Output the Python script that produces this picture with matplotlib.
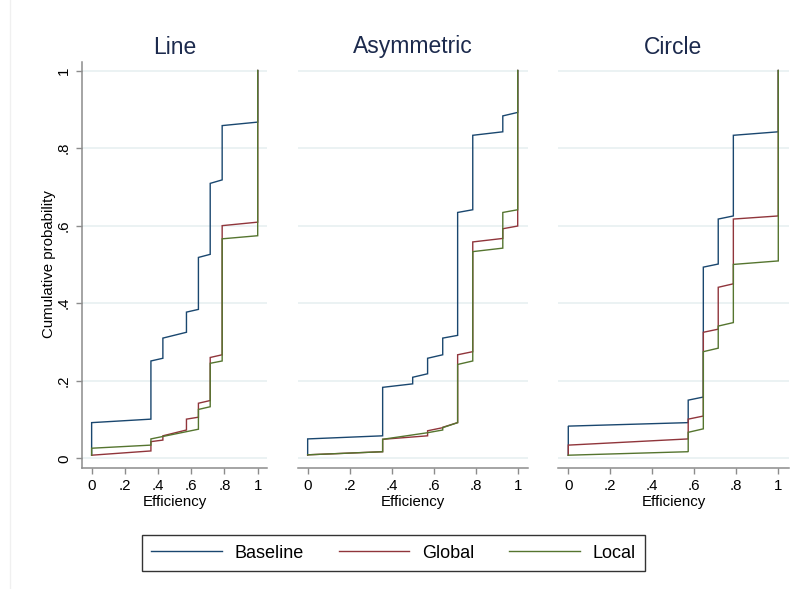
import matplotlib
matplotlib.use("Agg")
import matplotlib.pyplot as plt
from matplotlib.lines import Line2D

plt.rcParams['font.family'] = ['Liberation Sans', 'DejaVu Sans']

# -------------------------
# DATA: empirical CDFs of efficiency
# for each jump point: cdf at first and last tied observation
# -------------------------
panels = ["Line", "Asymmetric", "Circle"]
series = ["Baseline", "Global", "Local"]
colors = {"Baseline": "#1a476f", "Global": "#90353b", "Local": "#55752f"}

line_base_x = [0, .357, .429, .571, .643, .714, .786, 1]
line_base_lo = [.008, .101, .258, .325, .384, .526, .718, .867]
line_base_hi = [.092, .251, .310, .377, .518, .709, .858, 1]
line_glob_x = [0, .357, .429, .571, .643, .714, .786, 1]
line_glob_lo = [.008, .019, .047, .073, .106, .149, .267, .609]
line_glob_hi = [.008, .043, .058, .101, .142, .260, .600, 1]
line_loc_x = [0, .357, .643, .714, .786, 1]
line_loc_lo = [.008, .034, .075, .133, .251, .574]
line_loc_hi = [.026, .050, .126, .245, .566, 1]

asym_base_x = [0, .357, .5, .571, .643, .714, .786, .929, 1]
asym_base_lo = [.008, .058, .192, .218, .267, .317, .641, .842, .892]
asym_base_hi = [.050, .183, .209, .258, .310, .634, .833, .883, 1]
asym_glob_x = [0, .357, .571, .643, .714, .786, .929, 1]
asym_glob_lo = [.009, .017, .058, .079, .092, .275, .567, .599]
asym_glob_hi = [.009, .049, .071, .080, .267, .558, .592, 1]
asym_loc_x = [0, .357, .571, .643, .714, .786, .929, 1]
asym_loc_lo = [.009, .017, .066, .073, .092, .251, .542, .641]
asym_loc_hi = [.009, .049, .066, .079, .242, .533, .634, 1]

circ_base_x = [0, .571, .643, .714, .786, 1]
circ_base_lo = [.008, .092, .158, .501, .625, .842]
circ_base_hi = [.083, .150, .493, .617, .833, 1]
circ_glob_x = [0, .571, .643, .714, .786, 1]
circ_glob_lo = [.008, .050, .109, .333, .450, .625]
circ_glob_hi = [.034, .101, .325, .441, .617, 1]
circ_loc_x = [0, .571, .643, .714, .786, 1]
circ_loc_lo = [.008, .017, .076, .284, .350, .509]
circ_loc_hi = [.008, .067, .275, .341, .500, 1]

data = {
    "Line": {"Baseline": (line_base_x, line_base_lo, line_base_hi),
             "Global": (line_glob_x, line_glob_lo, line_glob_hi),
             "Local": (line_loc_x, line_loc_lo, line_loc_hi)},
    "Asymmetric": {"Baseline": (asym_base_x, asym_base_lo, asym_base_hi),
                   "Global": (asym_glob_x, asym_glob_lo, asym_glob_hi),
                   "Local": (asym_loc_x, asym_loc_lo, asym_loc_hi)},
    "Circle": {"Baseline": (circ_base_x, circ_base_lo, circ_base_hi),
               "Global": (circ_glob_x, circ_glob_lo, circ_glob_hi),
               "Local": (circ_loc_x, circ_loc_lo, circ_loc_hi)},
}

ticks = [0, .2, .4, .6, .8, 1]
tick_labels = ["0", ".2", ".4", ".6", ".8", "1"]


def cdf_path(xs, lo, hi):
    px, py = [], []
    for x, a, b in zip(xs, lo, hi):
        px += [x, x]
        py += [a, b]
    return px, py


# -------------------------
# LAYOUT (pixels -> figure fraction)
# -------------------------
W, H = 804, 589
fig = plt.figure(figsize=(W / 100, H / 100), dpi=100)

boxes = [(82, 267, (-0.058, 1.056)),
         (298, 528, (-0.046, 1.049)),
         (558, 789, (-0.049, 1.051))]
top, bottom = 62, 468
ylim = (-0.025, 1.022)
grid_c = "#e8f0f1"
axis_c = "#8c8c8c"
fs = 10.8

for i, (name, (l, r, xl)) in enumerate(zip(panels, boxes)):
    ax = fig.add_axes([l / W, 1 - bottom / H, (r - l) / W, (bottom - top) / H])
    for s in series:
        px, py = cdf_path(*data[name][s])
        ax.plot(px, py, color=colors[s], lw=1.0, solid_joinstyle="miter")
    ax.set_xlim(*xl)
    ax.set_ylim(*ylim)
    for t in ticks:
        ax.axhline(t, color=grid_c, lw=1.2, zorder=0)
    ax.set_xticks(ticks)
    ax.set_xticklabels(tick_labels)
    ax.tick_params(axis="x", direction="out", length=4, width=1, color=axis_c,
                   labelsize=fs, pad=4)
    for sp in ["top", "right"]:
        ax.spines[sp].set_visible(False)
    ax.spines["bottom"].set_color(axis_c)
    ax.spines["bottom"].set_linewidth(1.1)
    if i == 0:
        ax.set_yticks(ticks)
        ax.set_yticklabels(tick_labels, rotation=90, va="center")
        ax.tick_params(axis="y", direction="out", length=4, width=1, color=axis_c,
                       labelsize=fs, pad=4)
        ax.spines["left"].set_color(axis_c)
        ax.spines["left"].set_linewidth(1.1)
    else:
        ax.set_yticks([])
        ax.spines["left"].set_visible(False)
    ax.set_xlabel("Efficiency", fontsize=fs, labelpad=1.5)
    fig.text((l + r) / 2 / W, 1 - 47 / H, name, ha="center", va="center",
             fontsize=16.5, color="#1c2a4d")

fig.text(49 / W, 1 - 264 / H, "Cumulative probability", rotation=90,
         ha="center", va="center", fontsize=fs)

# faint outer region edge
fig.add_artist(Line2D([10 / W, 10 / W], [0, 1], transform=fig.transFigure,
                      color="#f0f0f0", lw=1))

handles = [Line2D([], [], color=colors[s], lw=1.0) for s in series]
leg = fig.legend(handles, series, loc="center", ncol=3,
                 bbox_to_anchor=(393.5 / W, 1 - 553 / H), fontsize=13,
                 frameon=True, fancybox=False, edgecolor="black",
                 handlelength=3.9, handletextpad=0.7, columnspacing=1.95,
                 borderpad=0.5, borderaxespad=0)
leg.get_frame().set_linewidth(1.0)

fig.savefig("out.png", dpi=100)
